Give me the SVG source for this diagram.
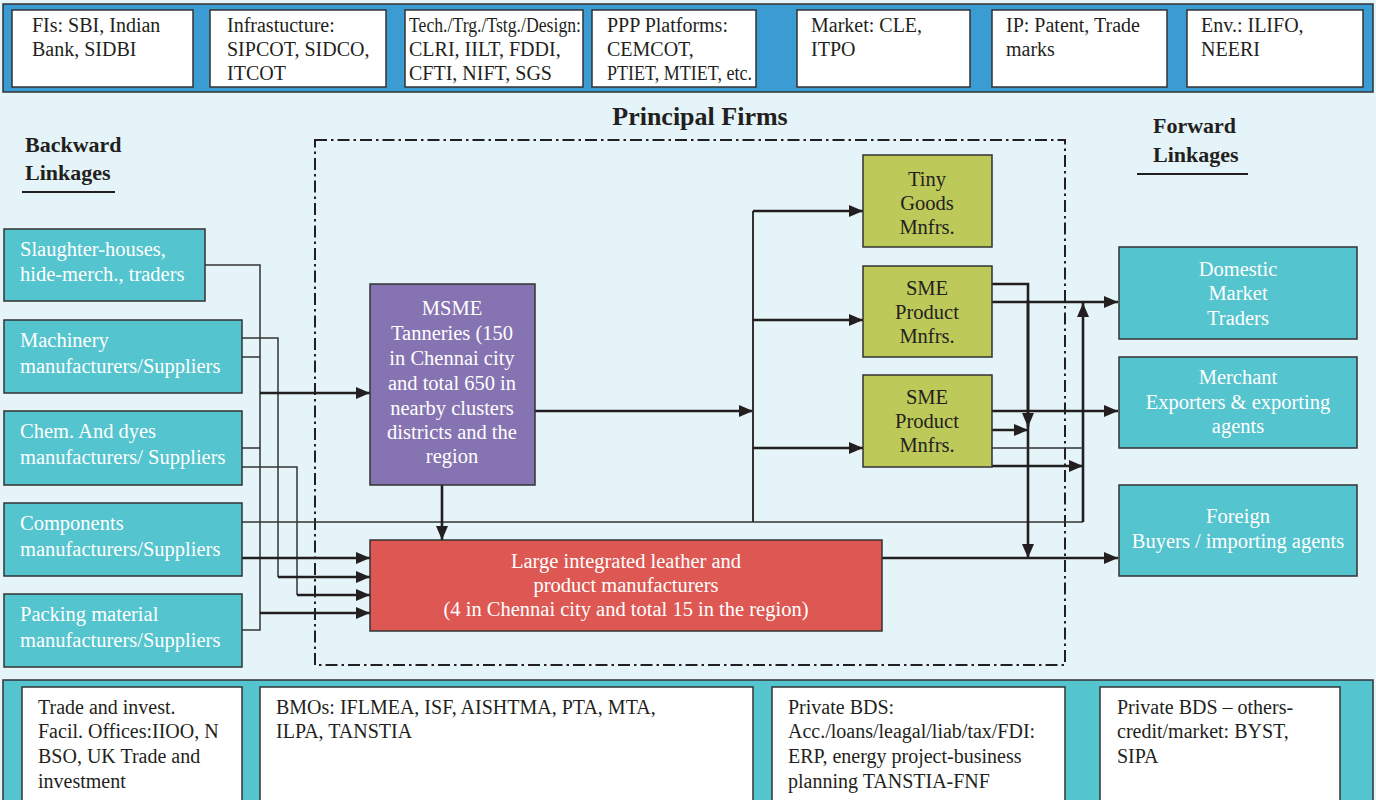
<svg xmlns="http://www.w3.org/2000/svg" width="1376" height="800" viewBox="0 0 1376 800">
<style>
.t{font-family:"Liberation Serif","Times New Roman",serif;font-size:20px;fill:#231f20}
.w{font-family:"Liberation Serif","Times New Roman",serif;font-size:20.5px;fill:#ffffff}
.g{font-family:"Liberation Serif","Times New Roman",serif;font-size:20.5px;fill:#231f20}
.h{font-family:"Liberation Serif","Times New Roman",serif;font-weight:bold;fill:#231f20}
.wb{fill:#ffffff;stroke:#333;stroke-width:1.5}
.teal{fill:#54c4ce;stroke:#333;stroke-width:1.5}
.thin{fill:none;stroke:#333;stroke-width:1.5}
.thk{fill:none;stroke:#231f20;stroke-width:2.6;marker-end:url(#ah)}
.thk2{fill:none;stroke:#231f20;stroke-width:2.6}
</style>
<defs>
<marker id="ah" viewBox="0 0 14 12" refX="14" refY="6" markerWidth="14" markerHeight="12" orient="auto" markerUnits="userSpaceOnUse">
<path d="M0,0 L14,6 L0,12 z" fill="#231f20"/>
</marker>
</defs>
<rect x="0" y="0" width="1376" height="800" fill="#e4f4f8"/>

<!-- top bar -->
<g id="top-bar">
<rect x="3" y="4" width="1370" height="88" fill="#3b9bd3" stroke="#333" stroke-width="1.5"/>
</g>
<g id="top-fis"><rect class="wb" x="12" y="10" width="181" height="77"/>
<text class="t" x="32" y="32">FIs: SBI, Indian</text><text class="t" x="32" y="56">Bank, SIDBI</text></g>
<g id="top-infra"><rect class="wb" x="210" y="10" width="176" height="77"/>
<text class="t" x="227" y="32">Infrastucture:</text><text class="t" x="227" y="56">SIPCOT, SIDCO,</text><text class="t" x="227" y="80">ITCOT</text></g>
<g id="top-tech"><rect class="wb" x="405" y="10" width="178" height="77"/>
<text class="t" x="409" y="32" textLength="172" lengthAdjust="spacingAndGlyphs">Tech./Trg./Tstg./Design:</text><text class="t" x="409" y="56">CLRI, IILT, FDDI,</text><text class="t" x="409" y="80">CFTI, NIFT, SGS</text></g>
<g id="top-ppp"><rect class="wb" x="592" y="10" width="164" height="77"/>
<text class="t" x="607" y="32">PPP Platforms:</text><text class="t" x="607" y="56">CEMCOT,</text><text class="t" x="607" y="80" textLength="145" lengthAdjust="spacingAndGlyphs">PTIET, MTIET, etc.</text></g>
<g id="top-market"><rect class="wb" x="797" y="10" width="173" height="77"/>
<text class="t" x="811" y="32">Market: CLE,</text><text class="t" x="811" y="56">ITPO</text></g>
<g id="top-ip"><rect class="wb" x="992" y="10" width="175" height="77"/>
<text class="t" x="1006" y="32">IP: Patent, Trade</text><text class="t" x="1006" y="56">marks</text></g>
<g id="top-env"><rect class="wb" x="1187" y="10" width="176" height="77"/>
<text class="t" x="1201" y="32">Env.: ILIFO,</text><text class="t" x="1201" y="56">NEERI</text></g>

<!-- titles -->
<g id="titles">
<text class="h" x="700" y="125" font-size="26" text-anchor="middle">Principal Firms</text>
<text class="h" x="25" y="152" font-size="22">Backward</text>
<text class="h" x="25" y="180" font-size="22">Linkages</text>
<line x1="22" y1="192" x2="115" y2="192" stroke="#231f20" stroke-width="2"/>
<text class="h" x="1153" y="133" font-size="22">Forward</text>
<text class="h" x="1153" y="162" font-size="22">Linkages</text>
<line x1="1137" y1="174" x2="1248" y2="174" stroke="#231f20" stroke-width="2"/>
</g>

<!-- dash-dot frame -->
<g id="principal-frame">
<rect x="315" y="140" width="750" height="525" fill="none" stroke="#231f20" stroke-width="2" stroke-dasharray="12 4 2.5 4"/>
</g>

<!-- connectors -->
<g id="connectors">
<path class="thin" d="M205,265 H260 V630 H242"/>
<path class="thin" d="M242,338 H278 V577"/>
<path class="thin" d="M242,357 H260"/>
<path class="thin" d="M242,448 H260"/>
<path class="thin" d="M242,467 H297 V595"/>
<path class="thin" d="M242,522 H1083"/>
<path class="thk" d="M260,393 H370"/>
<path class="thk" d="M242,558 H370"/>
<path class="thk" d="M278,577 H370"/>
<path class="thk" d="M297,595 H370"/>
<path class="thk" d="M260,613 H370"/>
<path class="thk" d="M442,485 V540"/>
<path class="thk" d="M535,411 H753"/>
<path fill="none" stroke="#333" stroke-width="2" d="M753,211 V522"/>
<path class="thk" d="M753,211 H863"/>
<path class="thk" d="M753,320 H863"/>
<path class="thk" d="M753,448 H863"/>
<path class="thk2" d="M992,284 H1028 V425"/>
<path class="thk" d="M1028,300 V427"/>
<path class="thk" d="M1028,425 V558"/>
<path class="thk" d="M992,302 H1118"/>
<path class="thk" d="M1083,522 V303"/>
<path class="thk" d="M992,411 H1118"/>
<path class="thk" d="M992,430 H1028"/>
<path class="thin" d="M992,448 H1083"/>
<path class="thk" d="M992,466 H1083"/>
<path class="thk" d="M882,558 H1118"/>
</g>

<!-- backward linkage nodes -->
<g id="slaughter"><rect class="teal" x="4" y="229" width="201" height="72"/>
<text class="w" x="20" y="256">Slaughter-houses,</text><text class="w" x="20" y="281">hide-merch., traders</text></g>
<g id="machinery"><rect class="teal" x="4" y="320" width="238" height="73"/>
<text class="w" x="20" y="347">Machinery</text><text class="w" x="20" y="373">manufacturers/Suppliers</text></g>
<g id="chem"><rect class="teal" x="4" y="411" width="238" height="74"/>
<text class="w" x="20" y="438">Chem. And dyes</text><text class="w" x="20" y="464">manufacturers/ Suppliers</text></g>
<g id="components"><rect class="teal" x="4" y="503" width="238" height="73"/>
<text class="w" x="20" y="530">Components</text><text class="w" x="20" y="556">manufacturers/Suppliers</text></g>
<g id="packing"><rect class="teal" x="4" y="594" width="238" height="73"/>
<text class="w" x="20" y="621">Packing material</text><text class="w" x="20" y="647">manufacturers/Suppliers</text></g>

<!-- principal firms -->
<g id="msme"><rect x="370" y="284" width="165" height="201" fill="#8673b1" stroke="#333" stroke-width="1.5"/>
<text class="w" x="452" text-anchor="middle"><tspan x="452" y="315">MSME</tspan><tspan x="452" y="340">Tanneries (150</tspan><tspan x="452" y="365">in Chennai city</tspan><tspan x="452" y="390">and total 650 in</tspan><tspan x="452" y="415">nearby clusters</tspan><tspan x="452" y="439">districts and the</tspan><tspan x="452" y="463">region</tspan></text></g>
<g id="large"><rect x="370" y="540" width="512" height="91" fill="#dd5753" stroke="#333" stroke-width="1.5"/>
<text class="w" text-anchor="middle"><tspan x="626" y="568">Large integrated leather and</tspan><tspan x="626" y="592">product manufacturers</tspan><tspan x="626" y="616">(4 in Chennai city and total 15 in the region)</tspan></text></g>
<g id="tiny"><rect x="863" y="155" width="129" height="92" fill="#bdc959" stroke="#333" stroke-width="1.5"/>
<text class="g" text-anchor="middle"><tspan x="927" y="186">Tiny</tspan><tspan x="927" y="210">Goods</tspan><tspan x="927" y="234">Mnfrs.</tspan></text></g>
<g id="sme1"><rect x="863" y="266" width="129" height="91" fill="#bdc959" stroke="#333" stroke-width="1.5"/>
<text class="g" text-anchor="middle"><tspan x="927" y="295">SME</tspan><tspan x="927" y="319">Product</tspan><tspan x="927" y="343">Mnfrs.</tspan></text></g>
<g id="sme2"><rect x="863" y="375" width="129" height="92" fill="#bdc959" stroke="#333" stroke-width="1.5"/>
<text class="g" text-anchor="middle"><tspan x="927" y="404">SME</tspan><tspan x="927" y="428">Product</tspan><tspan x="927" y="452">Mnfrs.</tspan></text></g>

<!-- forward linkage nodes -->
<g id="domestic"><rect class="teal" x="1119" y="247" width="238" height="92"/>
<text class="w" text-anchor="middle"><tspan x="1238" y="276">Domestic</tspan><tspan x="1238" y="300">Market</tspan><tspan x="1238" y="325">Traders</tspan></text></g>
<g id="merchant"><rect class="teal" x="1119" y="357" width="238" height="91"/>
<text class="w" text-anchor="middle"><tspan x="1238" y="384">Merchant</tspan><tspan x="1238" y="409">Exporters &amp; exporting</tspan><tspan x="1238" y="433">agents</tspan></text></g>
<g id="foreign"><rect class="teal" x="1119" y="485" width="238" height="91"/>
<text class="w" text-anchor="middle"><tspan x="1238" y="523">Foreign</tspan><tspan x="1238" y="548">Buyers / importing agents</tspan></text></g>

<!-- bottom bar -->
<g id="bottom-bar">
<rect x="3" y="680" width="1370" height="125" fill="#54c4ce" stroke="#333" stroke-width="1.5"/>
</g>
<g id="bot-trade"><rect class="wb" x="22" y="687" width="220" height="115"/>
<text class="t" x="38" y="714">Trade and invest.</text><text class="t" x="38" y="738">Facil. Offices:IIOO, N</text><text class="t" x="38" y="763">BSO, UK Trade and</text><text class="t" x="38" y="788">investment</text></g>
<g id="bot-bmo"><rect class="wb" x="260" y="687" width="493" height="115"/>
<text class="t" x="276" y="714">BMOs: IFLMEA, ISF, AISHTMA, PTA, MTA,</text><text class="t" x="276" y="738">ILPA, TANSTIA</text></g>
<g id="bot-bds"><rect class="wb" x="772" y="687" width="293" height="115"/>
<text class="t" x="788" y="714">Private BDS:</text><text class="t" x="788" y="738">Acc./loans/leagal/liab/tax/FDI:</text><text class="t" x="788" y="763">ERP, energy project-business</text><text class="t" x="788" y="788">planning TANSTIA-FNF</text></g>
<g id="bot-others"><rect class="wb" x="1100" y="687" width="240" height="115"/>
<text class="t" x="1117" y="714">Private BDS – others-</text><text class="t" x="1117" y="738">credit/market: BYST,</text><text class="t" x="1117" y="763">SIPA</text></g>
</svg>
